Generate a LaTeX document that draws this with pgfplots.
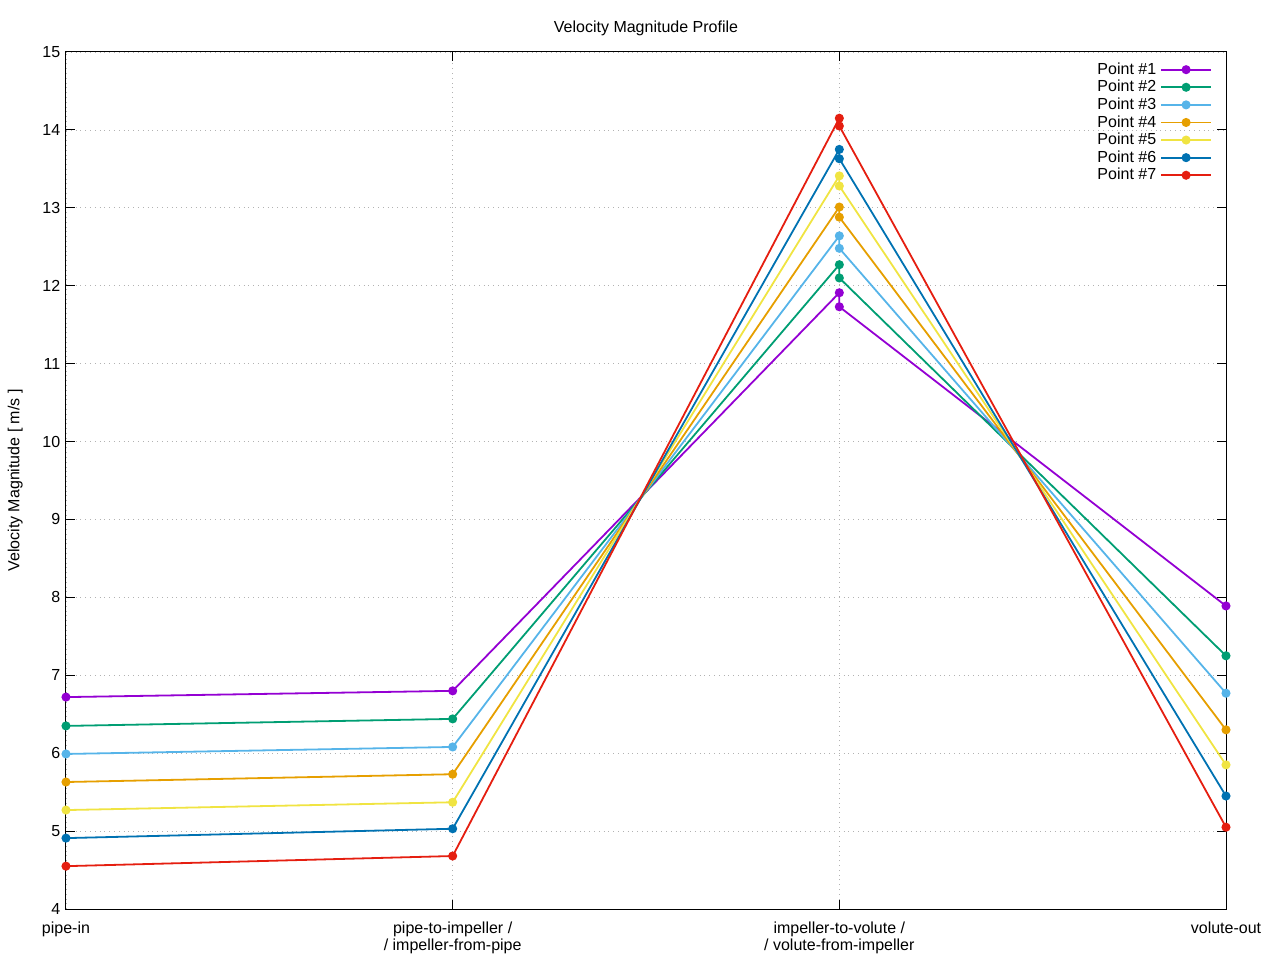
\documentclass[border=0pt]{standalone}
\usepackage{pgfplots}
\pgfplotsset{compat=1.18}
\usepackage{fontspec}
\setmainfont{Liberation Sans}

\definecolor{c1}{HTML}{9400D3}
\definecolor{c2}{HTML}{009E73}
\definecolor{c3}{HTML}{56B4E9}
\definecolor{c4}{HTML}{E69F00}
\definecolor{c5}{HTML}{F0E442}
\definecolor{c6}{HTML}{0072B2}
\definecolor{c7}{HTML}{E51E10}

\begin{document}
\fontsize{8pt}{9.5pt}\selectfont
\begin{tikzpicture}
\path[use as bounding box] (-33pt,-25.5pt) rectangle (607pt,454.5pt);
\begin{axis}[
    at={(0,0)}, anchor=south west,
    scale only axis, width=580pt, height=428.5pt,
    xmin=0, xmax=3, ymin=4, ymax=15,
    xtick={0,1,2,3},
    xticklabels={pipe-in, {pipe-to-impeller /\\/ impeller-from-pipe}, {impeller-to-volute /\\/ volute-from-impeller}, volute-out},
    xticklabel style={align=center, yshift=-3.5pt, font=\fontsize{8pt}{8.5pt}\selectfont},
    yticklabel style={font=\fontsize{8pt}{9pt}\selectfont},
    ytick={4,...,15},
    /pgf/number format/assume math mode=true,
    tick align=inside, major tick length=4.5pt,
    tick style={black, line width=0.5pt},
    axis line style={line width=0.5pt},
    grid=major,
    major grid style={gray!60, dotted, line width=0.4pt},
    title={Velocity Magnitude Profile},
    title style={at={(0.5,1)}, anchor=center, yshift=12pt, font=\fontsize{8pt}{9pt}\selectfont},
    every axis title shift=0pt,
    ylabel={Velocity Magnitude [ m/s ]},
    ylabel style={font=\fontsize{8pt}{9pt}\selectfont},
    every axis y label/.style={at={(ticklabel cs:0.5)}, xshift=-11pt, rotate=90, anchor=center},
    legend style={draw=none, fill=none, at={(0.99,0.995)}, anchor=north east,
        font=\fontsize{8pt}{8.5pt}\selectfont, row sep=-2.2pt, inner sep=1pt},
    legend cell align=right,
    legend plot pos=right,
    legend image code/.code={
        \draw[mark repeat=2, mark phase=2, #1] plot coordinates {(0pt,0pt) (12.5pt,0pt) (25pt,0pt)};
    },
    every axis plot/.append style={line width=0.9pt, mark=*, mark size=1.8pt},
]
\addplot[c1, mark options={fill=c1}] coordinates {(0,6.72) (1,6.80) (2,11.91) (2,11.73) (3,7.89)};
\addlegendentry{Point \#1}
\addplot[c2, mark options={fill=c2}] coordinates {(0,6.35) (1,6.44) (2,12.27) (2,12.10) (3,7.25)};
\addlegendentry{Point \#2}
\addplot[c3, mark options={fill=c3}] coordinates {(0,5.99) (1,6.08) (2,12.64) (2,12.48) (3,6.77)};
\addlegendentry{Point \#3}
\addplot[c4, mark options={fill=c4}] coordinates {(0,5.63) (1,5.73) (2,13.01) (2,12.88) (3,6.30)};
\addlegendentry{Point \#4}
\addplot[c5, mark options={fill=c5}] coordinates {(0,5.27) (1,5.37) (2,13.41) (2,13.28) (3,5.85)};
\addlegendentry{Point \#5}
\addplot[c6, mark options={fill=c6}] coordinates {(0,4.91) (1,5.03) (2,13.75) (2,13.63) (3,5.45)};
\addlegendentry{Point \#6}
\addplot[c7, mark options={fill=c7}] coordinates {(0,4.55) (1,4.68) (2,14.15) (2,14.05) (3,5.05)};
\addlegendentry{Point \#7}
\end{axis}
\end{tikzpicture}
\end{document}
